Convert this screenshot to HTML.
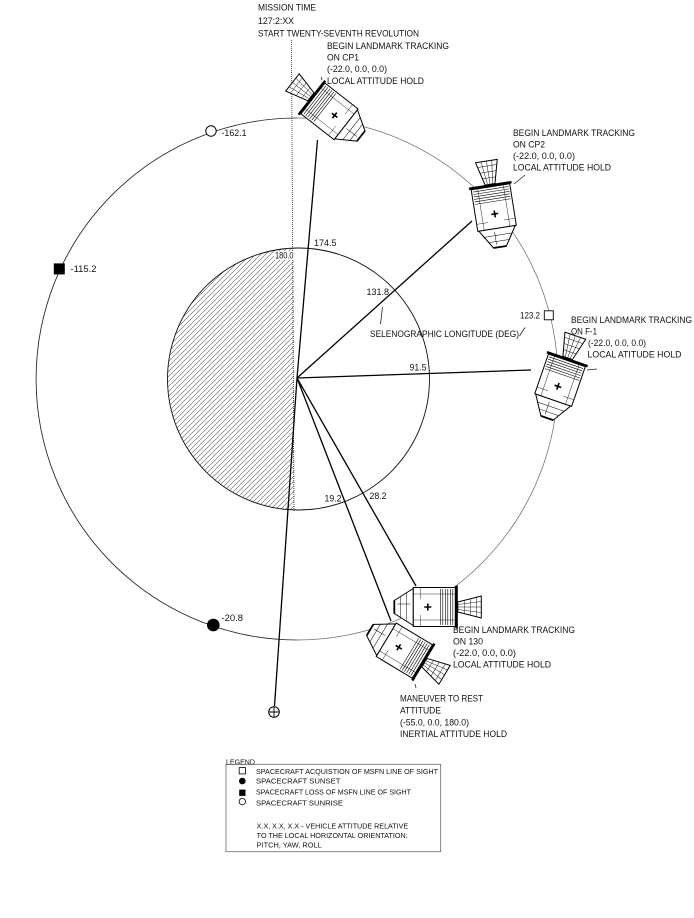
<!DOCTYPE html>
<html>
<head>
<meta charset="utf-8">
<style>
  html, body { margin:0; padding:0; background:#fff; }
  svg { display:block; }
  text { font-family: "Liberation Sans", sans-serif; fill:#111; }
  .t { font-size:9px; }
  .l { font-size:7px; }
</style>
</head>
<body>
<svg width="694" height="918" viewBox="0 0 694 918" xmlns="http://www.w3.org/2000/svg">
  <defs>
    <pattern id="h" patternUnits="userSpaceOnUse" width="5" height="5">
      <path d="M-1,6 L6,-1 M-1,1 L1,-1 M4,6 L6,4" stroke="#555" stroke-width="0.55" fill="none"/>
    </pattern>
    <clipPath id="moonC"><circle cx="298.5" cy="379" r="131"/></clipPath>
    <g id="sc" stroke="#000" fill="#fff">
      <path d="M0,-6.5 L19,-18.5 L19,18.5 L0,6.5 Z" stroke-width="1"/>
      <path d="M0,-6.5 L0,6.5" stroke-width="1.8"/>
      <path d="M6,-10 V10 M12,-14 V14 M3,-3 H16" stroke-width="0.5" fill="none"/>
      <rect x="19" y="-19.5" width="42" height="39" stroke-width="1"/>
      <path d="M19,-13 H61 M19,13 H61 M26,-19 V-8 M26,8 V19" stroke-width="0.4" fill="none"/>
      <path d="M46,-18 V18 M48.5,-18 V18 M51,-18 V18 M53.5,-18 V18 M56,-18 V18 M58.5,-18 V18" stroke-width="0.6" fill="none"/>
      <path d="M30,0 H37 M33.5,-3.5 V3.5" stroke-width="1.6" fill="none"/>
      <rect x="61" y="-21.5" width="2.5" height="43" fill="#000" stroke="none"/>
      <path d="M63.5,-5 L87,-11 L87,11 L63.5,5 Z" stroke-width="1"/>
      <path d="M70,-6.7 V6.7 M76,-8.2 V8.2 M82,-9.8 V9.8 M63.5,0 L87,0 M63.5,-2.5 L87,-5.5 M63.5,2.5 L87,5.5" stroke-width="0.45" fill="none"/>
    </g>
  </defs>

  <rect width="694" height="918" fill="#fff"/>

  <!-- hatched dark half of moon -->
  <g clip-path="url(#moonC)">
    <rect x="160" y="240" width="134" height="280" fill="url(#h)"/>
  </g>
  <!-- moon circle -->
  <circle cx="298.5" cy="379" r="131" fill="none" stroke="#111" stroke-width="0.9"/>

  <!-- orbit -->
  <path d="M297,118 A261,261 0 0 0 297,640" fill="none" stroke="#222" stroke-width="0.85"/>
  <path d="M297,118 A261,261 0 0 1 297,640" fill="none" stroke="#666" stroke-width="0.7"/>

  <!-- dotted vertical line -->
  <line x1="291.5" y1="40" x2="294" y2="511" stroke="#222" stroke-width="0.8" stroke-dasharray="1,1"/>

  <!-- radial lines -->
  <g stroke="#000" stroke-width="1.3" fill="none">
    <line x1="297" y1="378" x2="317.5" y2="140"/>
    <line x1="297" y1="378" x2="472" y2="221"/>
    <line x1="297" y1="378" x2="531" y2="370"/>
    <line x1="297" y1="378" x2="416" y2="586"/>
    <line x1="297" y1="378" x2="391" y2="621"/>
    <line x1="297" y1="378" x2="274.5" y2="706"/>
  </g>

  <!-- leader lines -->
  <g stroke="#222" stroke-width="0.8" fill="none">
    <line x1="382.5" y1="307" x2="380.5" y2="324"/>
    <line x1="519.5" y1="336" x2="525" y2="327.5"/>
    <line x1="514" y1="184" x2="525" y2="175"/>
    <line x1="587" y1="370" x2="597" y2="369"/>
    <line x1="415" y1="684" x2="416" y2="688"/>
    <line x1="321.5" y1="77" x2="322" y2="80"/>
  </g>

  <!-- spacecraft -->
  <use href="#sc" transform="translate(361,136) rotate(218)"/>
  <use href="#sc" transform="translate(500,247) rotate(-99)"/>
  <use href="#sc" transform="translate(547,418) rotate(-71)"/>
  <use href="#sc" transform="translate(394.3,607) rotate(0)"/>
  <use href="#sc" transform="translate(370,630) rotate(31)"/>

  <!-- orbit markers -->
  <circle cx="211" cy="131" r="5.2" fill="#fff" stroke="#000" stroke-width="1"/>
  <rect x="53.8" y="263.4" width="11" height="11" fill="#000"/>
  <circle cx="213.3" cy="625" r="6.3" fill="#000"/>
  <rect x="544.3" y="310.8" width="9" height="9" fill="#fff" stroke="#000" stroke-width="0.9"/>
  <circle cx="274" cy="712" r="5.3" fill="#fff" stroke="#000" stroke-width="1"/>
  <path d="M268.7,712 H279.3 M274,706.7 V717.3" stroke="#000" stroke-width="0.9"/>

  <!-- top text -->
  <text class="t" x="258" y="10.5" textLength="58" lengthAdjust="spacingAndGlyphs">MISSION TIME</text>
  <text class="t" x="258" y="24" textLength="36" lengthAdjust="spacingAndGlyphs">127:2:XX</text>
  <text class="t" x="258" y="36.5" textLength="161" lengthAdjust="spacingAndGlyphs">START TWENTY-SEVENTH REVOLUTION</text>

  <text class="t" x="327" y="49" textLength="122" lengthAdjust="spacingAndGlyphs">BEGIN LANDMARK TRACKING</text>
  <text class="t" x="327" y="60.5" textLength="32" lengthAdjust="spacingAndGlyphs">ON CP1</text>
  <text class="t" x="327" y="72" textLength="60" lengthAdjust="spacingAndGlyphs">(-22.0, 0.0, 0.0)</text>
  <text class="t" x="327" y="84" textLength="97" lengthAdjust="spacingAndGlyphs">LOCAL ATTITUDE HOLD</text>

  <text class="t" x="513" y="136" textLength="122" lengthAdjust="spacingAndGlyphs">BEGIN LANDMARK TRACKING</text>
  <text class="t" x="513" y="147.5" textLength="32" lengthAdjust="spacingAndGlyphs">ON CP2</text>
  <text class="t" x="513" y="159" textLength="62" lengthAdjust="spacingAndGlyphs">(-22.0, 0.0, 0.0)</text>
  <text class="t" x="513" y="170.5" textLength="98" lengthAdjust="spacingAndGlyphs">LOCAL ATTITUDE HOLD</text>

  <text class="t" x="571" y="323" textLength="121" lengthAdjust="spacingAndGlyphs">BEGIN LANDMARK TRACKING</text>
  <text class="t" x="571" y="334.5" textLength="26" lengthAdjust="spacingAndGlyphs">ON F-1</text>
  <text class="t" x="588" y="346" textLength="58" lengthAdjust="spacingAndGlyphs">(-22.0, 0.0, 0.0)</text>
  <text class="t" x="587.5" y="357.5" textLength="94" lengthAdjust="spacingAndGlyphs">LOCAL ATITUDE HOLD</text>

  <text class="t" x="453" y="633" textLength="122" lengthAdjust="spacingAndGlyphs">BEGIN LANDMARK TRACKING</text>
  <text class="t" x="453" y="644.5" textLength="30" lengthAdjust="spacingAndGlyphs">ON 130</text>
  <text class="t" x="453" y="656" textLength="63" lengthAdjust="spacingAndGlyphs">(-22.0, 0.0, 0.0)</text>
  <text class="t" x="453" y="667.5" textLength="98" lengthAdjust="spacingAndGlyphs">LOCAL ATTITUDE HOLD</text>

  <text class="t" x="400" y="701.5" textLength="83" lengthAdjust="spacingAndGlyphs">MANEUVER TO REST</text>
  <text class="t" x="400" y="713.5" textLength="41" lengthAdjust="spacingAndGlyphs">ATTITUDE</text>
  <text class="t" x="400" y="725.5" textLength="69" lengthAdjust="spacingAndGlyphs">(-55.0, 0.0, 180.0)</text>
  <text class="t" x="400" y="737" textLength="107" lengthAdjust="spacingAndGlyphs">INERTIAL ATTITUDE HOLD</text>

  <!-- numeric labels -->
  <text class="t" x="221.5" y="136" textLength="25" lengthAdjust="spacingAndGlyphs">-162.1</text>
  <text class="t" x="70.5" y="272" textLength="26" lengthAdjust="spacingAndGlyphs">-115.2</text>
  <text class="t" x="221.5" y="621" textLength="21.5" lengthAdjust="spacingAndGlyphs">-20.8</text>
  <rect x="274" y="251" width="20" height="9" fill="#fff"/>
  <text class="t" x="275" y="258.5" textLength="18.5" lengthAdjust="spacingAndGlyphs">180.0</text>
  <text class="t" x="314" y="246" textLength="22.5" lengthAdjust="spacingAndGlyphs">174.5</text>
  <text class="t" x="366.5" y="295" textLength="22.5" lengthAdjust="spacingAndGlyphs">131.8</text>
  <text class="t" x="409.5" y="370.5" textLength="17" lengthAdjust="spacingAndGlyphs">91.5</text>
  <text class="t" x="324.5" y="501.5" textLength="17" lengthAdjust="spacingAndGlyphs">19.2</text>
  <text class="t" x="369.5" y="499" textLength="17" lengthAdjust="spacingAndGlyphs">28.2</text>
  <text class="t" x="520" y="318.5" textLength="20" lengthAdjust="spacingAndGlyphs">123.2</text>
  <text class="t" x="370" y="337" textLength="149" lengthAdjust="spacingAndGlyphs">SELENOGRAPHIC LONGITUDE (DEG)</text>

  <!-- legend -->
  <rect x="226" y="764.3" width="214.7" height="87.4" fill="none" stroke="#666" stroke-width="0.8"/>
  <text class="l" x="226" y="764.5" textLength="29" lengthAdjust="spacingAndGlyphs">LEGEND</text>
  <rect x="239.2" y="767.6" width="6.3" height="6.3" fill="#fff" stroke="#000" stroke-width="0.8"/>
  <circle cx="242.3" cy="781" r="3.3" fill="#000"/>
  <rect x="239.2" y="789.6" width="6.3" height="6.3" fill="#000"/>
  <circle cx="242.3" cy="801.6" r="3.2" fill="#fff" stroke="#000" stroke-width="0.8"/>
  <text class="l" x="256" y="774" textLength="182" lengthAdjust="spacingAndGlyphs">SPACECRAFT ACQUISTION OF MSFN LINE OF SIGHT</text>
  <text class="l" x="256" y="783.5" textLength="84.5" lengthAdjust="spacingAndGlyphs">SPACECRAFT SUNSET</text>
  <text class="l" x="256" y="794.7" textLength="155" lengthAdjust="spacingAndGlyphs">SPACECRAFT LOSS OF MSFN LINE OF SIGHT</text>
  <text class="l" x="256" y="805.5" textLength="87" lengthAdjust="spacingAndGlyphs">SPACECRAFT SUNRISE</text>
  <text class="l" x="256.7" y="828.5" textLength="151.5" lengthAdjust="spacingAndGlyphs">X.X, X.X, X.X - VEHICLE ATTITUDE RELATIVE</text>
  <text class="l" x="256.7" y="838" textLength="151" lengthAdjust="spacingAndGlyphs">TO THE LOCAL HORIZONTAL ORIENTATION:</text>
  <text class="l" x="256.7" y="847.5" textLength="65" lengthAdjust="spacingAndGlyphs">PITCH, YAW, ROLL</text>
</svg>
</body>
</html>
